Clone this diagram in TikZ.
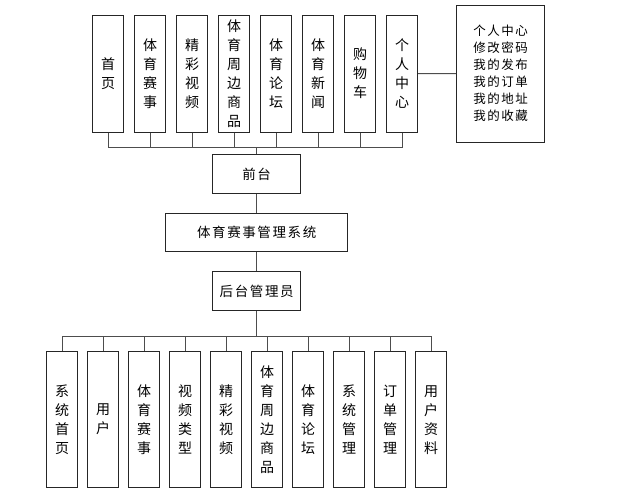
\documentclass[tikz,border=0pt]{standalone}
\usepackage{fontspec}
\newfontfamily\cjk{Noto Sans CJK SC}
\newfontfamily\cjkwide[LetterSpace=12]{Noto Sans CJK SC}
\usetikzlibrary{positioning}
\definecolor{ink}{HTML}{262626}
\definecolor{wire}{HTML}{4D4D4D}
\tikzset{
  tab/.style={draw=ink, fill=white, inner sep=0pt, minimum width=31pt, align=center, font=\cjk\fontsize{14}{19}\selectfont},
  toptab/.style={tab, minimum height=117pt},
  lowtab/.style={tab, minimum height=136pt},
  hub/.style={draw=ink, fill=white, inner sep=0pt, minimum height=38.5pt, font=\cjkwide\fontsize{13.5}{16}\selectfont},
  link/.style={draw=wire},
}

\begin{document}
\begin{tikzpicture}[x=1pt, y=-1pt, line width=1pt, node distance=19pt]
\useasboundingbox (0,0) rectangle (630,490);
% front-end modules
\foreach \t [count=\i] in {{首\\页},{体\\育\\赛\\事},{精\\彩\\视\\频},{体\\育\\周\\边\\商\\品},{体\\育\\论\\坛},{体\\育\\新\\闻},{购\\物\\车},{个\\人\\中\\心}}
  \node[toptab] (f\i) at ({108+42*(\i-1)},73.5) {\t};
\node[draw=ink, fill=white, minimum width=87.6pt, minimum height=137.3pt, align=center, font=\cjkwide\fontsize{12.5}{17}\selectfont] (info) at (500.5,73.7) {个人中心\\修改密码\\我的发布\\我的订单\\我的地址\\我的收藏};
% centre column
\node[hub, minimum width=88pt] (qt) at (256.7,174) {前台};
\node[hub, minimum width=182pt, below=of qt] (sys) {体育赛事管理系统};
\node[hub, minimum width=88pt, below=of sys] (ht) {后台管理员};
% back-end modules
\foreach \t [count=\i] in {{系\\统\\首\\页},{用\\户},{体\\育\\赛\\事},{视\\频\\类\\型},{精\\彩\\视\\频},{体\\育\\周\\边\\商\\品},{体\\育\\论\\坛},{系\\统\\管\\理},{订\\单\\管\\理},{用\\户\\资\\料}}
  \node[lowtab] (b\i) at ({62.2+41*(\i-1)},419.7) {\t};
% connectors
\coordinate (fbus) at (256.7,147);
\coordinate (bbus) at (256.7,336.7);
\draw[link] (qt) -- (fbus);
\foreach \i in {1,...,8} \draw[link] (f\i) |- (fbus);
\draw[link] (f8) -- (info);
\draw[link] (qt) -- (sys);
\draw[link] (sys) -- (ht);
\draw[link] (ht) -- (bbus);
\foreach \i in {1,...,10} \draw[link] (b\i) |- (bbus);
\end{tikzpicture}
\end{document}
